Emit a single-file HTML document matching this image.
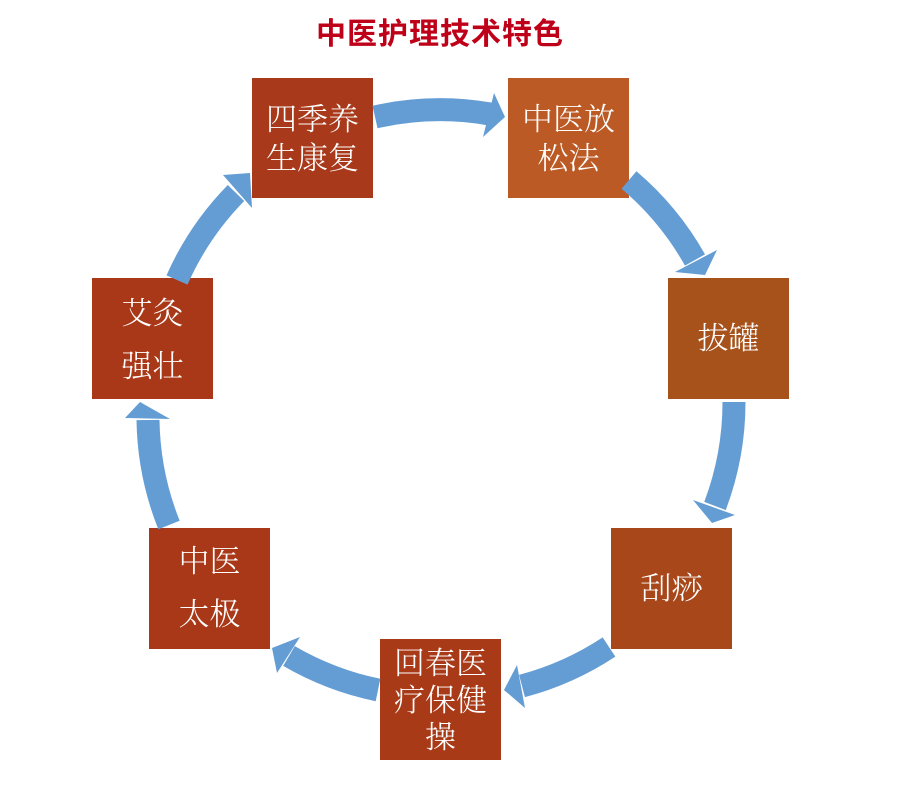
<!DOCTYPE html>
<html>
<head>
<meta charset="utf-8">
<style>
  html, body { margin: 0; padding: 0; background: #ffffff; }
  body { width: 920px; height: 792px; overflow: hidden; }
  svg { display: block; }
  .t { font-family: "Liberation Serif", "Noto Serif CJK SC", serif; font-size: 31px; font-weight: 300; fill: #ffffff; }
  .title { font-family: "Liberation Sans", "Noto Sans CJK SC", sans-serif; font-size: 30px; font-weight: bold; fill: #BE0018; }
</style>
</head>
<body>
<svg width="920" height="792" viewBox="0 0 920 792" xmlns="http://www.w3.org/2000/svg">
  <text class="title" x="440" y="44" text-anchor="middle" letter-spacing="1">中医护理技术特色</text>

  <!-- Boxes -->
  <rect x="252" y="78" width="121" height="120" fill="#A8391A"/>
  <rect x="508" y="78" width="121" height="120" fill="#BB5A24"/>
  <rect x="668" y="278" width="121" height="121" fill="#A7521A"/>
  <rect x="611" y="528" width="121" height="121" fill="#A84719"/>
  <rect x="380" y="639" width="121" height="121" fill="#A93A18"/>
  <rect x="149" y="528" width="121" height="121" fill="#A93818"/>
  <rect x="92" y="278" width="121" height="121" fill="#A93818"/>

  <!-- Box texts -->
  <text class="t" x="312.5" y="130" text-anchor="middle">四季养</text>
  <text class="t" x="312.5" y="169" text-anchor="middle">生康复</text>

  <text class="t" x="568.5" y="130" text-anchor="middle">中医放</text>
  <text class="t" x="568.5" y="169" text-anchor="middle">松法</text>

  <text class="t" x="728.5" y="349" text-anchor="middle">拔罐</text>

  <text class="t" x="671.5" y="599" text-anchor="middle">刮痧</text>

  <text class="t" x="440.5" y="674" text-anchor="middle">回春医</text>
  <text class="t" x="440.5" y="711" text-anchor="middle">疗保健</text>
  <text class="t" x="440.5" y="748" text-anchor="middle">操</text>

  <text class="t" x="209.5" y="572" text-anchor="middle">中医</text>
  <text class="t" x="209.5" y="625" text-anchor="middle">太极</text>

  <text class="t" x="152.5" y="324" text-anchor="middle">艾灸</text>
  <text class="t" x="152.5" y="377" text-anchor="middle">强壮</text>

  <!-- Arrows -->
  <g fill="none" stroke="#649DD4" stroke-width="23" stroke-linecap="butt">
    <path d="M375,117 A294,294 0 0 1 490,114"/>
    <path d="M629,180 A294,294 0 0 1 695,260"/>
    <path d="M734,402 A294,294 0 0 1 715,506"/>
    <path d="M609,647 A294,294 0 0 1 522,686"/>
    <path d="M378,690 A294,294 0 0 1 289,656"/>
    <path d="M169,525 A294,294 0 0 1 148,420"/>
    <path d="M177,280 A294,294 0 0 1 236,193"/>
  </g>
  <g fill="#649DD4">
    <polygon points="494,93 505,117 483,137"/>
    <polygon points="717,250 705,275 675,272"/>
    <polygon points="735,515 712,523 693,500"/>
    <polygon points="525,708 504,690 517,665"/>
    <polygon points="277,673 272,648 300,637"/>
    <polygon points="125,418 140,402 170,419"/>
    <polygon points="223,175 250,173 252,208"/>
  </g>
</svg>
</body>
</html>
